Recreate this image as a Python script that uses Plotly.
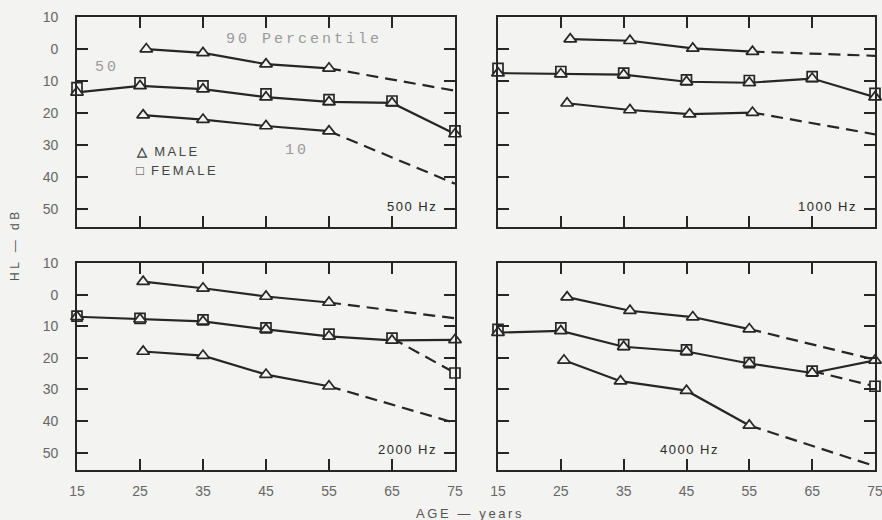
import plotly.graph_objects as go

# ---------------- data ----------------
ages = [15, 25, 35, 45, 55, 65, 75]
age_ticks = [15, 25, 35, 45, 55, 65, 75]
hl_tickvals = [-10, 0, 10, 20, 30, 40, 50]
hl_ticktext = ["10", "0", "10", "20", "30", "40", "50"]
freq_labels = ["500 Hz", "1000 Hz", "2000 Hz", "4000 Hz"]

# median (50th percentile)
male_med_500 = [13.5, 11.5, 12.5, 15.0, 16.5, 16.8, 26.5]
female_med_500 = [12.0, 10.5, 11.5, 14.0, 15.8, 16.2, 25.5]
male_med_1000 = [7.5, 7.8, 8.0, 10.2, 10.5, 9.2, 15.0]
female_med_1000 = [6.0, 7.0, 7.5, 9.6, 9.8, 8.6, 13.8]
male_med_2000 = [7.0, 7.8, 8.5, 11.0, 13.2, 14.5, 14.3]
female_med_2000 = [6.8, 7.5, 8.0, 10.5, 12.5, 13.8, 24.8]
male_med_4000 = [12.0, 11.5, 16.5, 18.0, 21.8, 24.8, 20.8]
female_med_4000 = [11.0, 10.5, 15.8, 17.5, 21.5, 24.2, 29.0]

# 90th percentile (male) measured points + extrapolated value at 75
p90_ages_500 = [26, 35, 45, 55]
p90_500 = [0.0, 1.2, 4.7, 6.0]
p90_ext_500 = 13.0
p90_ages_1000 = [26.5, 36, 46, 55.5]
p90_1000 = [-3.1, -2.6, -0.2, 0.8]
p90_ext_1000 = 2.1
p90_ages_2000 = [25.5, 35, 45, 55]
p90_2000 = [-4.1, -2.0, 0.6, 2.5]
p90_ext_2000 = 7.5
p90_ages_4000 = [26, 36, 46, 55]
p90_4000 = [0.8, 5.1, 7.1, 10.9]
p90_ext_4000 = 20.6

# 10th percentile (male)
p10_ages_500 = [25.5, 35, 45, 55]
p10_500 = [20.6, 22.0, 24.0, 25.6]
p10_ext_500 = 42.0
p10_ages_1000 = [26, 36, 45.5, 55.5]
p10_1000 = [16.9, 19.0, 20.3, 19.8]
p10_ext_1000 = 26.6
p10_ages_2000 = [25.5, 35, 45, 55]
p10_2000 = [18.0, 19.3, 25.3, 29.0]
p10_ext_2000 = 40.6
p10_ages_4000 = [25.5, 34.5, 45, 55]
p10_4000 = [20.8, 27.4, 30.4, 41.4]
p10_ext_4000 = 54.3

# female median at 75 drawn dashed (diverging from male)
female_split = [False, False, True, True]

# ---------------- styling ----------------
BG = "#f3f3f1"
INK = "#262626"
DASH = "12px,7px"
FONT = "Liberation Sans, Arial, sans-serif"

panels = [
    dict(med_m=male_med_500, med_f=female_med_500, p90a=p90_ages_500, p90=p90_500, p90e=p90_ext_500,
         p10a=p10_ages_500, p10=p10_500, p10e=p10_ext_500),
    dict(med_m=male_med_1000, med_f=female_med_1000, p90a=p90_ages_1000, p90=p90_1000, p90e=p90_ext_1000,
         p10a=p10_ages_1000, p10=p10_1000, p10e=p10_ext_1000),
    dict(med_m=male_med_2000, med_f=female_med_2000, p90a=p90_ages_2000, p90=p90_2000, p90e=p90_ext_2000,
         p10a=p10_ages_2000, p10=p10_2000, p10e=p10_ext_2000),
    dict(med_m=male_med_4000, med_f=female_med_4000, p90a=p90_ages_4000, p90=p90_4000, p90e=p90_ext_4000,
         p10a=p10_ages_4000, p10=p10_4000, p10e=p10_ext_4000),
]

W, H = 882, 520
xdoms = [[77 / W, 455 / W], [498 / W, 875 / W]]
ydoms = [[1 - 227 / H, 1 - 17 / H], [1 - 470 / H, 1 - 263 / H]]

fig = go.Figure()
tri = dict(symbol="triangle-up", size=11, color=BG, line=dict(color=INK, width=1.7))
sq = dict(symbol="square", size=10, color=BG, line=dict(color=INK, width=1.7))

for i, p in enumerate(panels):
    n = i + 1
    xa = "x" if n == 1 else f"x{n}"
    ya = "y" if n == 1 else f"y{n}"
    common = dict(xaxis=xa, yaxis=ya, showlegend=False, hoverinfo="skip", cliponaxis=False)
    # dashed extrapolations
    for a, v, e in [(p["p90a"], p["p90"], p["p90e"]), (p["p10a"], p["p10"], p["p10e"])]:
        fig.add_trace(go.Scatter(x=[a[-1], 75], y=[v[-1], e], mode="lines",
                                 line=dict(color=INK, width=2.2, dash=DASH), **common))
    if female_split[i]:
        fig.add_trace(go.Scatter(x=ages[-2:], y=p["med_f"][-2:], mode="lines",
                                 line=dict(color=INK, width=2.2, dash=DASH), **common))
    # solid lines
    fig.add_trace(go.Scatter(x=p["p90a"], y=p["p90"], mode="lines+markers",
                             line=dict(color=INK, width=2.2), marker=tri, **common))
    fig.add_trace(go.Scatter(x=p["p10a"], y=p["p10"], mode="lines+markers",
                             line=dict(color=INK, width=2.2), marker=tri, **common))
    fig.add_trace(go.Scatter(x=ages, y=p["med_m"], mode="lines",
                             line=dict(color=INK, width=2.2), **common))
    fig.add_trace(go.Scatter(x=ages, y=p["med_f"], mode="markers", marker=sq, **common))
    fig.add_trace(go.Scatter(x=ages, y=p["med_m"], mode="markers", marker=tri, **common))

axis_common = dict(showline=True, linecolor=INK, linewidth=1.6, mirror="ticks",
                   ticks="inside", ticklen=11, tickwidth=1.5, tickcolor=INK,
                   showgrid=False, zeroline=False, automargin=False, ticklabeloverflow="allow",
                   tickfont=dict(family=FONT, size=14, color="#666"))
layout = {}
for i in range(4):
    n = i + 1
    row, col = divmod(i, 2)
    xk = "xaxis" if n == 1 else f"xaxis{n}"
    yk = "yaxis" if n == 1 else f"yaxis{n}"
    layout[xk] = dict(axis_common, domain=xdoms[col], range=[15, 75], tickvals=age_ticks,
                      ticktext=[str(t) for t in age_ticks], showticklabels=(row == 1),
                      ticklabelstandoff=7, anchor=("y" if n == 1 else f"y{n}"))
    layout[yk] = dict(axis_common, domain=ydoms[row], range=[55.5, -10], tickvals=hl_tickvals,
                      ticktext=hl_ticktext, showticklabels=(col == 0),
                      ticklabelstandoff=14, anchor=("x" if n == 1 else f"x{n}"))


def spaced(t, px):
    return f"<span style='letter-spacing:{px}px'>{t}</span>"


anns = []
label_pos = [("x", "y", 72.5), ("x2", "y2", 72.5), ("x3", "y3", 72.5), ("x4", "y4", 50.5)]
for (xr, yr, xx), lab in zip(label_pos, freq_labels):
    anns.append(dict(x=xx, y=49, xref=xr, yref=yr, text=spaced(lab, 1.5), showarrow=False,
                     xanchor="right", font=dict(family=FONT, size=13, color="#2a2a2a")))
typew = dict(family="Liberation Mono, monospace", size=15, color="#9a9a9a")
leg = dict(family=FONT, size=13, color="#444")
anns += [
    dict(x=51.1, y=-3.1, xref="x", yref="y", text=spaced("90 Percentile", 3), showarrow=False, font=typew),
    dict(x=19.7, y=5.7, xref="x", yref="y", text=spaced("50", 3), showarrow=False, font=typew),
    dict(x=49.9, y=31.6, xref="x", yref="y", text=spaced("10", 3), showarrow=False, font=typew),
    dict(x=24.0, y=32.0, xref="x", yref="y", text="<b>△</b>  " + spaced("MALE", 2.5),
         showarrow=False, xanchor="left", font=leg),
    dict(x=24.0, y=37.8, xref="x", yref="y", text="<b>□</b>  " + spaced("FEMALE", 2.5),
         showarrow=False, xanchor="left", font=leg),
    dict(x=15 / W, y=1 - 245 / H, xref="paper", yref="paper", text=spaced("HL — dB", 3.5),
         textangle=-90, xanchor="center", yanchor="middle",
         showarrow=False, font=dict(family=FONT, size=12, color="#555")),
    dict(x=470 / W, y=1 - 513 / H, xref="paper", yref="paper", text=spaced("AGE — years", 2.6),
         xanchor="center", yanchor="middle",
         showarrow=False, font=dict(family=FONT, size=13, color="#555")),
]

fig.update_layout(width=W, height=H, margin=dict(l=0, r=0, t=0, b=0, autoexpand=False),
                  paper_bgcolor=BG, plot_bgcolor=BG, annotations=anns, **layout)
fig.write_html("out.html", config={"displayModeBar": False},
               post_script="document.body.style.margin='0';document.body.style.overflow='hidden';"
                           "document.body.style.background='" + BG + "';")
